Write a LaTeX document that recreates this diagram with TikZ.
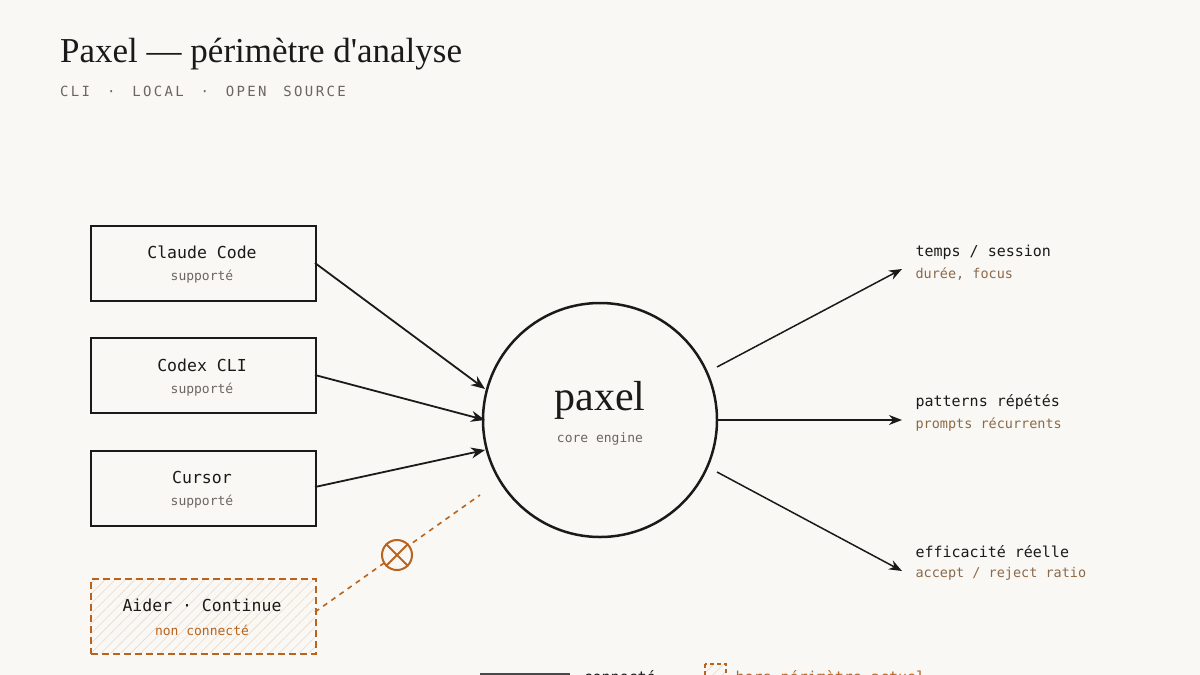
\documentclass[tikz,border=0pt]{standalone}
\usepackage{fontspec}
\setmainfont{Liberation Serif}
\setmonofont{DejaVu Sans Mono}
\usetikzlibrary{patterns.meta,arrows.meta}
\definecolor{bg}{HTML}{FAF8F4}
\definecolor{ink}{HTML}{1A1A1A}
\definecolor{rust}{HTML}{B8641F}
\definecolor{sub}{HTML}{6B6660}
\definecolor{osub}{HTML}{8A6A4A}
\definecolor{hatch}{HTML}{EAD8C6}
\begin{document}
\begin{tikzpicture}[x=1pt,y=-1pt,
  box/.style={draw=ink,line width=2pt,minimum width=225pt,minimum height=75pt,anchor=north west},
  lbl/.style={font=\ttfamily\fontsize{16.5}{19}\selectfont,text=ink},
  slbl/.style={font=\ttfamily\fontsize{13}{16}\selectfont,text=sub},
  olbl/.style={font=\ttfamily\fontsize{15}{18}\selectfont,text=ink,anchor=west},
  osl/.style={font=\ttfamily\fontsize{13.5}{16}\selectfont,text=osub,anchor=west},
  arr/.style={draw=ink,line width=1.8pt,-{Stealth[length=14pt,width=11pt]}},
  oarr/.style={draw=ink,line width=1.5pt,-{Stealth[length=13pt,width=10pt]}},
  hat/.style={pattern={Lines[angle=45,distance=7pt,line width=0.6pt]},pattern color=hatch}]
\fill[bg] (0,0) rectangle (1200,675);
\useasboundingbox (0,0) rectangle (1200,675);
\node[anchor=base west,inner sep=0,font=\fontsize{35}{40}\selectfont,text=ink] (title) at (60,62) {Paxel — périmètre d\textquotesingle analyse};
\node[anchor=base west,inner sep=0,font=\ttfamily\fontsize{14}{16}\selectfont,text=sub] (sub) at (60,96) {C\,L\,I\ \ ·\ \ L\,O\,C\,A\,L\ \ ·\ \ O\,P\,E\,N\ \ S\,O\,U\,R\,C\,E};

\node[box] (claude) at (90,225) {};
\node[lbl] at (202,252) {Claude Code};
\node[slbl] at (202,277) {supporté};
\node[box] (codex) at (90,337) {};
\node[lbl] at (202,365) {Codex CLI};
\node[slbl] at (202,390) {supporté};
\node[box] (cursor) at (90,450) {};
\node[lbl] at (202,477) {Cursor};
\node[slbl] at (202,502) {supporté};
\fill[hat] (90,578) rectangle (315,652);
\node[box,draw=rust,dash pattern=on 7pt off 4pt] (aider) at (90,578) {};
\node[lbl] at (202,605) {Aider · Continue};
\node[slbl,text=rust] at (202,630) {non connecté};

\node[circle,draw=ink,line width=2.5pt,minimum size=234pt] (core) at (600,420) {};
\node[font=\fontsize{42}{46}\selectfont,text=ink] at (600,400) {paxel};
\node[slbl] at (600,439) {core engine};

\coordinate (c1) at (315,263); \coordinate (c2) at (315,375); \coordinate (c3) at (315,487);
\draw[arr] (c1) -- (485,389);
\draw[arr] (c2) -- (485,420);
\draw[arr] (c3) -- (485,450);
\coordinate (a1) at (315,612); \coordinate (a2) at (480,495);
\draw[rust,line width=1.6pt,dash pattern=on 5pt off 5pt] (a1) -- (a2);
\node[circle,draw=rust,fill=bg,line width=2pt,minimum size=30pt,inner sep=0] (x) at (397,555) {};
\draw[rust,line width=2pt] (x.north west)--(x.south east) (x.north east)--(x.south west);

\coordinate (o1) at (902,269); \coordinate (o2) at (902,420); \coordinate (o3) at (902,571);
\draw[oarr] (717,367) -- (o1);
\draw[oarr] (717,420) -- (o2);
\draw[oarr] (717,472) -- (o3);
\node[olbl] at (912,252) {temps / session};
\node[osl] at (912,274) {durée, focus};
\node[olbl] at (912,402) {patterns répétés};
\node[osl] at (912,424) {prompts récurrents};
\node[olbl] at (912,552) {efficacité réelle};
\node[osl] at (912,574) {accept / reject ratio};

\coordinate (l1) at (480,674); \coordinate (l2) at (570,674);
\draw[ink!80,line width=2pt] (l1) -- (l2);
\node[olbl,anchor=base west] at (580,682) {connecté};
\fill[hat] (705,664) rectangle (726,686);
\draw[rust,line width=1.6pt,dash pattern=on 4pt off 3pt] (705,664) rectangle (726,686);
\node[olbl,anchor=base west,text=rust] at (732,682) {hors périmètre actuel};
\end{tikzpicture}
\end{document}
